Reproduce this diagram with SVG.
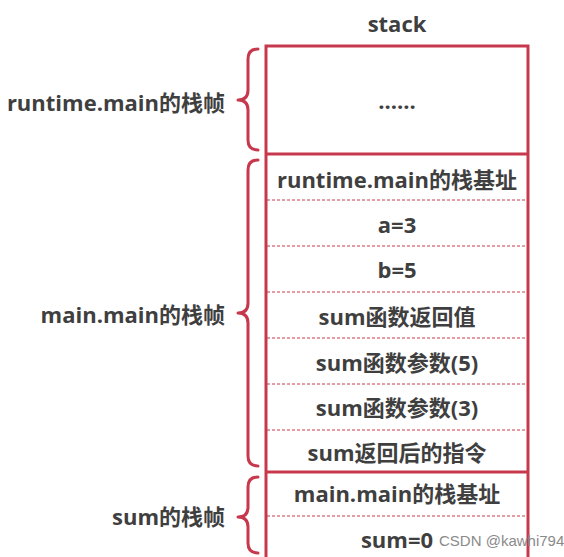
<svg xmlns="http://www.w3.org/2000/svg" width="564" height="557" viewBox="0 0 564 557">
<style>
.t{font-family:"Open Sans","Noto Sans CJK SC",sans-serif;font-weight:bold;font-size:22px;fill:#3f3f3f;}
.c{text-anchor:middle;}
.r{text-anchor:end;}
.solid{stroke:#c8384c;stroke-width:3;fill:none;}
.dash{stroke:#c8384c;stroke-width:1;stroke-dasharray:3 2;fill:none;}
.brace{stroke:#c8384c;stroke-width:3;fill:none;stroke-linecap:round;stroke-linejoin:round;}
.wm{font-family:"Liberation Sans",sans-serif;font-size:15px;fill:#8a8a8a;}
</style>
<rect width="564" height="557" fill="#ffffff"/>
<text class="t c" x="397" y="32">stack</text>
<g id="connectors">
<path class="brace" d="M258,49 Q248,49 248,59 L248,90 Q248,100 238,100 Q248,100 248,110 L248,140 Q248,150 258,150"/>
<path class="brace" d="M258,160 Q248,160 248,170 L248,303 Q248,313 238,313 Q248,313 248,323 L248,456 Q248,466 258,466"/>
<path class="brace" d="M258,477 Q248,477 248,487 L248,507 Q248,517 238,517 Q248,517 248,527 L248,543 Q248,553 258,553"/>
</g>
<g id="stack">
<path class="solid" d="M266,560 L266,46 L528,46 L528,560"/>
<line class="solid" x1="266" y1="154" x2="528" y2="154"/>
<line class="solid" x1="266" y1="472" x2="528" y2="472"/>
<line class="dash" x1="267" y1="200" x2="527" y2="200"/>
<line class="dash" x1="267" y1="246" x2="527" y2="246"/>
<line class="dash" x1="267" y1="292" x2="527" y2="292"/>
<line class="dash" x1="267" y1="338" x2="527" y2="338"/>
<line class="dash" x1="267" y1="384" x2="527" y2="384"/>
<line class="dash" x1="267" y1="430" x2="527" y2="430"/>
<line class="dash" x1="267" y1="516" x2="527" y2="516"/>
</g>
<g id="cell-top"><text class="t c" x="397" y="109">......</text></g>
<g id="cell-1"><text class="t c" x="397" y="188">runtime.main的栈基址</text></g>
<g id="cell-2"><text class="t c" x="397" y="233">a=3</text></g>
<g id="cell-3"><text class="t c" x="397" y="278">b=5</text></g>
<g id="cell-4"><text class="t c" x="397" y="325">sum函数返回值</text></g>
<g id="cell-5"><text class="t c" x="397" y="371">sum函数参数(5)</text></g>
<g id="cell-6"><text class="t c" x="397" y="416">sum函数参数(3)</text></g>
<g id="cell-7"><text class="t c" x="397" y="461">sum返回后的指令</text></g>
<g id="cell-8"><text class="t c" x="397" y="502">main.main的栈基址</text></g>
<g id="cell-9"><text class="t c" x="397" y="548">sum=0</text></g>
<g id="label-runtime"><text class="t r" x="225" y="111">runtime.main的栈帧</text></g>
<g id="label-main"><text class="t r" x="225" y="323">main.main的栈帧</text></g>
<g id="label-sum"><text class="t r" x="225" y="525">sum的栈帧</text></g>
<text class="wm" x="439" y="546">CSDN @kawhi794</text>
</svg>
